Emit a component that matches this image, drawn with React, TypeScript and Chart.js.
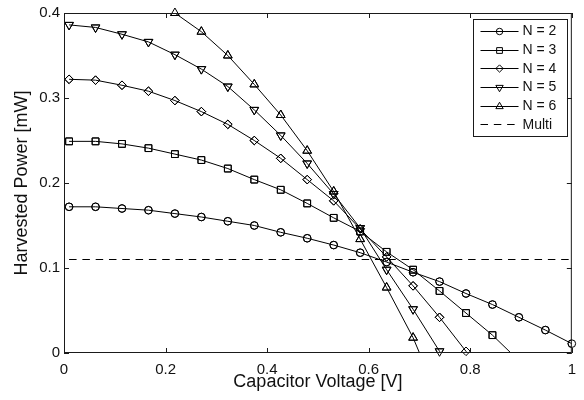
import React, { useEffect, useRef } from 'react';
import { Chart, registerables } from 'chart.js';
import { drawPoint } from 'chart.js/helpers';

Chart.register(...registerables);

// ---------- data ----------
const voltage = [0.01, 0.0621, 0.1142, 0.1663, 0.2184, 0.2705, 0.3226, 0.3747, 0.4268, 0.4789, 0.5311, 0.5832, 0.6353, 0.6874, 0.7395, 0.7916, 0.8437, 0.8958, 0.9479, 1.0];
const powerN2 = [0.172, 0.172, 0.170, 0.168, 0.164, 0.160, 0.155, 0.150, 0.142, 0.135, 0.127, 0.118, 0.107, 0.095, 0.084, 0.070, 0.057, 0.042, 0.027, 0.011];
const powerN3 = [0.249, 0.249, 0.246, 0.241, 0.234, 0.227, 0.217, 0.204, 0.192, 0.176, 0.159, 0.143, 0.119, 0.098, 0.073, 0.047, 0.021, -0.009, null, null];
const powerN4 = [0.322, 0.321, 0.315, 0.308, 0.297, 0.284, 0.269, 0.250, 0.229, 0.204, 0.179, 0.146, 0.113, 0.079, 0.042, 0.002, -0.04, null, null, null];
const powerN5 = [0.386, 0.383, 0.375, 0.366, 0.351, 0.334, 0.3135, 0.286, 0.256, 0.223, 0.187, 0.147, 0.098, 0.0515, 0.002, -0.045, null, null, null, null];
const powerN6 = [null, null, null, null, 0.400, 0.378, 0.350, 0.316, 0.280, 0.238, 0.190, 0.134, 0.077, 0.018, -0.056, null, null, null, null, null];
const multiVoltage = [0.01, 1.0];
const multiPower = [0.11, 0.11];
const seriesLabels = ['N = 2', 'N = 3', 'N = 4', 'N = 5', 'N = 6', 'Multi'];
const xTickValues = [0, 0.2, 0.4, 0.6, 0.8, 1];
const xTickLabels = ['0', '0.2', '0.4', '0.6', '0.8', '1'];
const yTickValues = [0, 0.1, 0.2, 0.3, 0.4];
const yTickLabels = ['0', '0.1', '0.2', '0.3', '0.4'];
const xTitle = 'Capacitor Voltage [V]';
const yTitle = 'Harvested Power [mW]';

// ---------- styles ----------
const FONT = '"Liberation Sans", Arial, Helvetica, sans-serif';
const INK = '#111';
const markerStyles = [
  { pointStyle: 'circle', radius: 3.8, rotation: 0 },
  { pointStyle: 'rect', radius: 4.8, rotation: 0 },
  { pointStyle: 'rectRot', radius: 4.3, rotation: 0 },
  { pointStyle: 'triangle', radius: 5, rotation: 180 },
  { pointStyle: 'triangle', radius: 5, rotation: 0 },
];

function pairs(xs: number[], ys: (number | null)[]) {
  return xs.map((x, i) => ({ x, y: ys[i] }));
}

const overlayPlugin = {
  id: 'matlabOverlay',
  afterDatasetsDraw(chart: any) {
    const ctx = chart.ctx;
    const xs = chart.scales.x;
    const ys = chart.scales.y;
    // redraw in-range markers without clipping
    chart.data.datasets.forEach((ds: any, di: number) => {
      const meta = chart.getDatasetMeta(di);
      if (!meta.visible) return;
      meta.data.forEach((pt: any, i: number) => {
        const d = ds.data[i];
        if (!d || d.y === null || d.y === undefined) return;
        if (d.y < ys.min - 1e-9 || d.y > ys.max + 1e-9 || d.x < xs.min || d.x > xs.max) return;
        pt.draw(ctx);
      });
    });
    // box and inside ticks
    const { left, right, top, bottom } = chart.chartArea;
    ctx.save();
    ctx.strokeStyle = '#1a1a1a';
    ctx.lineWidth = 1;
    ctx.strokeRect(left + 0.5, top + 0.5, right - left - 1, bottom - top - 1);
    ctx.beginPath();
    const tl = 5;
    xTickValues.forEach((v) => {
      const px = Math.round(xs.getPixelForValue(v)) + 0.5;
      ctx.moveTo(px, bottom);
      ctx.lineTo(px, bottom - tl);
      ctx.moveTo(px, top);
      ctx.lineTo(px, top + tl);
    });
    yTickValues.forEach((v) => {
      const py = Math.round(ys.getPixelForValue(v)) + 0.5;
      ctx.moveTo(left, py);
      ctx.lineTo(left + tl, py);
      ctx.moveTo(right, py);
      ctx.lineTo(right - tl, py);
    });
    ctx.stroke();
    ctx.restore();
  },
  afterDraw(chart: any) {
    const ctx = chart.ctx;
    const { right, top } = chart.chartArea;
    const rowH = 18.7;
    const boxRight = right - 5;
    const boxLeft = boxRight - 94;
    const boxTop = top + 6;
    const boxH = rowH * seriesLabels.length + 5;
    ctx.save();
    ctx.fillStyle = '#fff';
    ctx.fillRect(boxLeft, boxTop, boxRight - boxLeft, boxH);
    ctx.strokeStyle = '#1a1a1a';
    ctx.lineWidth = 1;
    ctx.strokeRect(Math.round(boxLeft) + 0.5, Math.round(boxTop) + 0.5, Math.round(boxRight - boxLeft), Math.round(boxH));
    chart.data.datasets.forEach((ds: any, i: number) => {
      const cy = boxTop + 2.5 + rowH * (i + 0.5);
      const sx0 = boxLeft + 7.7;
      const sx1 = sx0 + 38;
      ctx.strokeStyle = '#000';
      ctx.lineWidth = 1;
      ctx.setLineDash(ds.borderDash || []);
      ctx.beginPath();
      ctx.moveTo(sx0, Math.round(cy) + 0.5);
      ctx.lineTo(sx1, Math.round(cy) + 0.5);
      ctx.stroke();
      ctx.setLineDash([]);
      if (ds.pointRadius > 0) {
        ctx.fillStyle = 'rgba(0,0,0,0)';
        drawPoint(ctx, {
          pointStyle: ds.pointStyle,
          rotation: ds.pointRotation || 0,
          radius: ds.pointRadius * 0.85,
          borderWidth: 1,
        } as any, (sx0 + sx1) / 2, Math.round(cy) + 0.5);
      }
      ctx.fillStyle = INK;
      ctx.font = `14px ${FONT}`;
      ctx.textBaseline = 'middle';
      ctx.textAlign = 'left';
      ctx.fillText(ds.label, sx1 + 4, cy + 0.5);
    });
    ctx.restore();
  },
};

export default function App() {
  const ref = useRef<HTMLCanvasElement | null>(null);
  useEffect(() => {
    if (!ref.current) return;
    const curves = [powerN2, powerN3, powerN4, powerN5, powerN6];
    const datasets: any[] = curves.map((vals, i) => ({
      label: seriesLabels[i],
      data: pairs(voltage, vals),
      borderColor: '#000',
      borderWidth: 1,
      pointStyle: markerStyles[i].pointStyle,
      pointRadius: markerStyles[i].radius,
      pointRotation: markerStyles[i].rotation,
      pointBorderColor: '#000',
      pointBackgroundColor: 'rgba(0,0,0,0)',
      pointBorderWidth: 1,
      pointHoverRadius: markerStyles[i].radius,
      tension: 0,
      fill: false,
      spanGaps: false,
    }));
    datasets.push({
      label: seriesLabels[5],
      data: pairs(multiVoltage, multiPower),
      borderColor: '#000',
      borderWidth: 1,
      borderDash: [7.5, 5.8],
      pointRadius: 0,
      pointHoverRadius: 0,
      fill: false,
    });
    const labelFor = (values: number[], labels: string[]) => (v: number) => {
      const idx = values.findIndex((t) => Math.abs(t - v) < 1e-9);
      return idx >= 0 ? labels[idx] : '';
    };
    const chart = new Chart(ref.current, {
      type: 'line',
      data: { datasets },
      options: {
        animation: false,
        responsive: false,
        devicePixelRatio: 1,
        layout: { padding: { top: 6, right: 11, bottom: 0, left: 0 } },
        plugins: { legend: { display: false }, tooltip: { enabled: false } },
        events: [],
        scales: {
          x: {
            type: 'linear',
            min: 0,
            max: 1,
            afterFit: (s: any) => { s.height = 47; },
            afterBuildTicks: (s: any) => { s.ticks = xTickValues.map((v) => ({ value: v })); },
            ticks: { font: { family: FONT, size: 15 }, color: INK, padding: 8, maxRotation: 0, callback: labelFor(xTickValues, xTickLabels) },
            grid: { display: false, drawTicks: false },
            border: { display: false },
            title: { display: true, text: xTitle, font: { family: FONT, size: 18 }, color: INK, padding: { top: 0, bottom: 7 } },
          },
          y: {
            type: 'linear',
            min: 0,
            max: 0.4,
            afterFit: (s: any) => { s.width = 64; },
            afterBuildTicks: (s: any) => { s.ticks = yTickValues.map((v) => ({ value: v })); },
            ticks: { font: { family: FONT, size: 15 }, color: INK, padding: 4, callback: labelFor(yTickValues, yTickLabels) },
            grid: { display: false, drawTicks: false },
            border: { display: false },
            title: { display: true, text: yTitle, font: { family: FONT, size: 18 }, color: INK, padding: { top: 11, bottom: 0 } },
          },
        },
      } as any,
      plugins: [overlayPlugin],
    });
    return () => chart.destroy();
  }, []);
  return (
    <div style={{ position: 'fixed', left: 0, top: 0, width: 584, height: 400, background: '#fff' }}>
      <canvas ref={ref} width={584} height={400} style={{ display: 'block' }} />
    </div>
  );
}
